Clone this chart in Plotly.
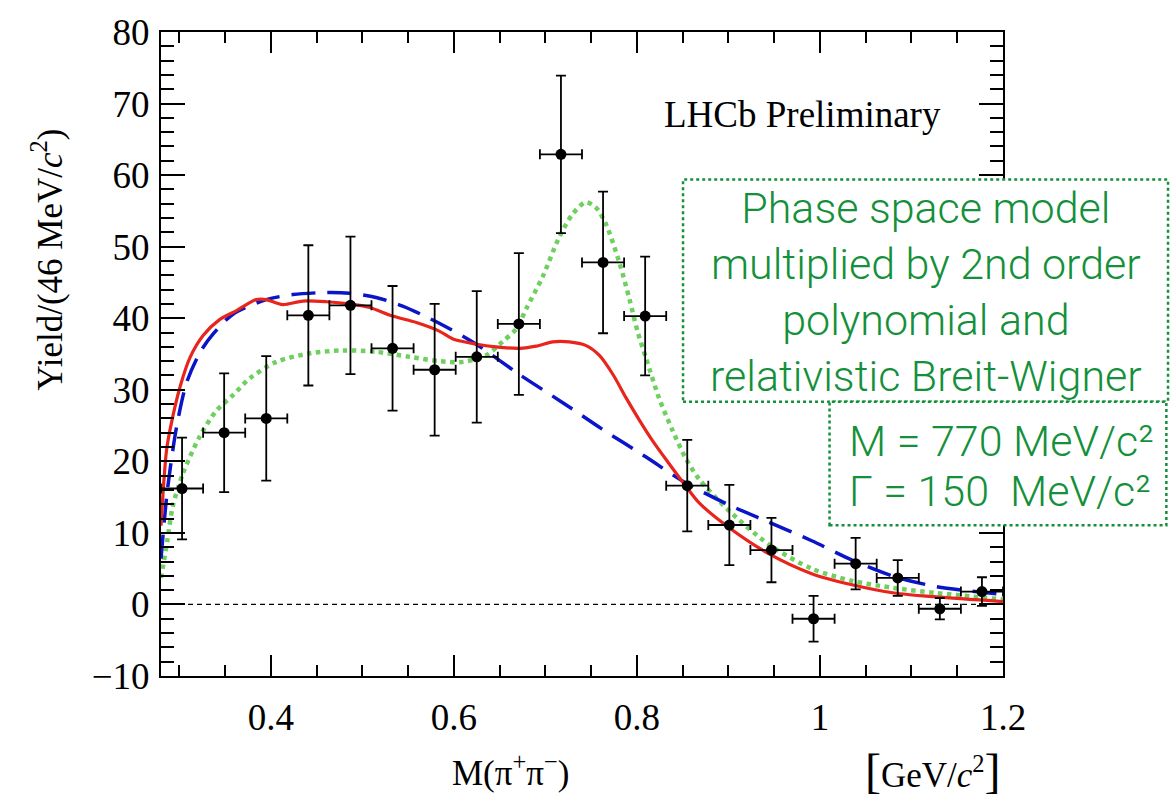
import plotly.graph_objects as go

# ---------------- data ----------------
bin_centers = [0.303, 0.349, 0.395, 0.441, 0.487, 0.533, 0.579, 0.625, 0.671, 0.717,
               0.763, 0.809, 0.855, 0.901, 0.947, 0.993, 1.039, 1.085, 1.131, 1.177]
yields = [16.2, 24.0, 26.0, 40.4, 41.8, 35.8, 32.8, 34.6, 39.2, 62.9,
          47.8, 40.3, 16.6, 11.1, 7.6, -2.0, 5.7, 3.7, -0.6, 1.8]
yield_err = [7.1, 8.3, 8.7, 9.8, 9.6, 8.7, 9.2, 9.2, 9.9, 11.0,
             9.9, 8.3, 6.4, 5.6, 4.5, 3.2, 3.6, 2.5, 1.5, 2.0]
bin_half_width = 0.023

red_x = [0.280, 0.283, 0.286, 0.290, 0.301, 0.312, 0.326, 0.344, 0.363, 0.384, 0.395,
         0.413, 0.435, 0.461, 0.486, 0.508, 0.533, 0.559, 0.584, 0.599, 0.624, 0.646,
         0.672, 0.690, 0.708, 0.726, 0.744, 0.759, 0.774, 0.788, 0.803, 0.817, 0.835,
         0.853, 0.868, 0.899, 0.944, 0.991, 1.035, 1.081, 1.127, 1.200]
red_y = [11.0, 17.0, 21.5, 24.5, 30.5, 34.6, 37.6, 39.8, 41.1, 42.6, 42.6,
         41.9, 42.4, 42.3, 42.0, 41.5, 40.3, 39.4, 38.2, 37.1, 36.4, 36.0,
         35.8, 36.1, 36.7, 36.7, 36.2, 34.8, 32.1, 28.9, 25.7, 22.9, 19.7,
         16.6, 14.2, 10.9, 7.1, 4.3, 2.75, 1.6, 1.05, 0.4]

blue_x = [0.280, 0.287, 0.297, 0.308, 0.323, 0.337, 0.359, 0.395, 0.424, 0.461, 0.486,
          0.515, 0.544, 0.584, 0.624, 0.672, 0.719, 0.762, 0.810, 0.853, 0.899, 0.944,
          0.991, 1.035, 1.081, 1.127, 1.200]
blue_y = [6.4, 16.0, 24.8, 31.0, 35.3, 37.8, 40.6, 42.6, 43.3, 43.6, 43.5,
          42.9, 41.7, 39.3, 36.4, 32.1, 28.2, 24.5, 20.6, 17.0, 14.0, 11.5,
          8.9, 6.2, 3.9, 2.5, 1.4]

green_x = [0.280, 0.287, 0.293, 0.304, 0.322, 0.340, 0.359, 0.377, 0.406, 0.443, 0.479,
           0.515, 0.552, 0.584, 0.610, 0.635, 0.653, 0.668, 0.679, 0.697, 0.715, 0.730,
           0.744, 0.755, 0.766, 0.781, 0.792, 0.801, 0.810, 0.824, 0.839, 0.853, 0.868,
           0.899, 0.944, 0.991, 1.035, 1.081, 1.127, 1.200]
green_y = [3.7, 9.0, 13.8, 18.3, 23.4, 27.0, 29.3, 31.6, 33.9, 35.1, 35.5,
           35.3, 34.6, 34.0, 33.9, 34.8, 36.7, 38.5, 41.3, 45.8, 51.3, 54.6,
           56.2, 55.5, 53.2, 47.7, 42.6, 38.0, 34.4, 28.9, 24.3, 20.5, 17.5,
           13.3, 8.4, 5.0, 3.3, 2.3, 1.6, 0.7]

x_tick_vals = [0.4, 0.6, 0.8, 1.0, 1.2]
x_tick_text = ["0.4", "0.6", "0.8", "1", "1.2"]
y_tick_vals = [-10, 0, 10, 20, 30, 40, 50, 60, 70, 80]
y_tick_text = ["\u221210", "0", "10", "20", "30", "40", "50", "60", "70", "80"]

# ---------------- figure ----------------
SERIF = "Liberation Serif, Times New Roman, serif"
SANS = "Roboto, Liberation Sans, Arial, sans-serif"
GREEN_TXT = "#14903a"

fig = go.Figure()

fig.add_trace(go.Scatter(x=green_x, y=green_y, mode="lines",
                         line=dict(color="#6fcf5f", width=4.5, dash="dot", shape="spline", smoothing=0.8),
                         hoverinfo="skip"))
fig.add_trace(go.Scatter(x=blue_x, y=blue_y, mode="lines",
                         line=dict(color="#0a14c8", width=3.5, dash="24px,12px", shape="spline", smoothing=0.8),
                         hoverinfo="skip"))
fig.add_trace(go.Scatter(x=red_x, y=red_y, mode="lines",
                         line=dict(color="#e8241c", width=3.2, shape="spline", smoothing=0.8),
                         hoverinfo="skip"))

fig.add_trace(go.Scatter(
    x=bin_centers, y=yields, mode="markers",
    marker=dict(color="black", size=11),
    error_y=dict(type="data", array=yield_err, color="black", thickness=1.8, width=5),
    error_x=dict(type="constant", value=bin_half_width, color="black", thickness=1.8, width=5),
))

fig.update_layout(
    width=1176, height=802,
    margin=dict(l=161, r=173, t=22, b=126),
    paper_bgcolor="white", plot_bgcolor="white",
    showlegend=False,
    font=dict(family=SERIF, size=36, color="black"),
    xaxis=dict(range=[0.28, 1.2], tickmode="array", tickvals=x_tick_vals, ticktext=x_tick_text,
               ticks="inside", ticklen=21, tickwidth=1.8, tickcolor="black",
               showline=True, linewidth=2, linecolor="black", mirror="ticks",
               showgrid=False, zeroline=False,
               minor=dict(ticks="inside", ticklen=11, tickwidth=1.5, tickcolor="black", dtick=0.05, tick0=0.3,
                          showgrid=False),
               tickfont=dict(family=SERIF, size=37), ticklabelstandoff=8),
    yaxis=dict(range=[-10, 80], tickmode="array", tickvals=y_tick_vals, ticktext=y_tick_text,
               ticks="inside", ticklen=24, tickwidth=1.8, tickcolor="black",
               showline=True, linewidth=2, linecolor="black", mirror="ticks",
               showgrid=False, zeroline=False,
               minor=dict(ticks="inside", ticklen=13, tickwidth=1.5, tickcolor="black", dtick=2, tick0=0,
                          showgrid=False),
               tickfont=dict(family=SERIF, size=37), ticklabelstandoff=2),
)

# zero reference line
fig.add_shape(type="line", xref="x", yref="y", x0=0.28, x1=1.2, y0=0, y1=0,
              line=dict(color="black", width=1.2, dash="5px,4px"), layer="below")

# axis titles
fig.add_annotation(xref="paper", yref="paper", x=0.415, y=-0.147, xanchor="center", yanchor="middle",
                   text="M(\u03c0<sup>+</sup>\u03c0<sup>\u2212</sup>)", showarrow=False,
                   font=dict(family=SERIF, size=35))
fig.add_annotation(xref="paper", yref="paper", x=1.0, y=-0.147, xanchor="right", yanchor="middle",
                   text='<span style="font-size:48px">[</span>GeV/<i>c</i><sup>2</sup><span style="font-size:48px">]</span>',
                   showarrow=False, font=dict(family=SERIF, size=35))
fig.add_annotation(xref="paper", yref="paper", x=-0.135, y=0.647, xanchor="center", yanchor="middle",
                   textangle=-90, text="Yield/(46 MeV/<i>c</i><sup>2</sup>)", showarrow=False,
                   font=dict(family=SERIF, size=35))

# LHCb label
fig.add_annotation(xref="paper", yref="paper", x=0.595, y=0.872, xanchor="left", yanchor="middle",
                   text="LHCb Preliminary", showarrow=False, font=dict(family=SERIF, size=37))

# boxes (white fill, dotted green border) drawn above the plot
fig.add_shape(type="rect", xref="paper", yref="paper", x0=0.620, x1=1.196, y0=0.426, y1=0.771,
              line=dict(color=GREEN_TXT, width=2.5, dash="dot"), fillcolor="white", layer="above")
fig.add_shape(type="rect", xref="paper", yref="paper", x0=0.794, x1=1.194, y0=0.234, y1=0.426,
              line=dict(color=GREEN_TXT, width=2.5, dash="dot"), fillcolor="white", layer="above")

fig.add_annotation(xref="paper", yref="paper", x=0.908, y=0.597, xanchor="center", yanchor="middle",
                   text="Phase space model<br>multiplied by 2nd order<br>polynomial and<br>relativistic Breit-Wigner",
                   showarrow=False, align="center",
                   font=dict(family=SANS, size=43, color=GREEN_TXT, weight=300))
fig.add_annotation(xref="paper", yref="paper", x=0.815, y=(676 - 437) / 654, xanchor="left", yanchor="middle",
                   text="M = 770 MeV/c\u00b2", showarrow=False,
                   font=dict(family=SANS, size=43, color=GREEN_TXT, weight=300))
fig.add_annotation(xref="paper", yref="paper", x=0.815, y=(676 - 488) / 654, xanchor="left", yanchor="middle",
                   text="\u0393 = 150  MeV/c\u00b2", showarrow=False,
                   font=dict(family=SANS, size=43, color=GREEN_TXT, weight=300))

fig.write_html("out.html")
